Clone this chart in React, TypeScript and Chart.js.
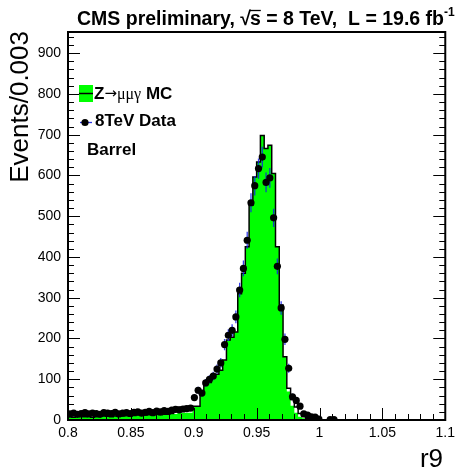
import { useEffect, useRef } from "react";
import { Chart, registerables } from "chart.js";

Chart.register(...registerables);

const X_MIN = 0.8;
const X_MAX = 1.1;
const BIN_WIDTH = 0.003;
const Y_MAX = 952;

// Green filled MC histogram (100 bins of 0.003 from 0.8 to 1.1)
const mcFill = [
  8, 7, 9, 8, 8, 9, 7, 8, 9, 10,
  9, 8, 10, 9, 10, 11, 10, 11, 12, 11,
  12, 13, 12, 14, 13, 14, 15, 16, 15, 17,
  18, 18, 18, 33, 33, 65, 88, 92, 108, 112,
  122, 147, 196, 203, 216, 310, 360, 425, 527, 596,
  633, 698, 666, 674, 605, 425, 282, 155, 70, 35,
  18, 8, 4, 2, 1, 0, 0, 0, 0, 0,
  0, 0, 0, 0, 0, 0, 0, 0, 0, 0,
  0, 0, 0, 0, 0, 0, 0, 0, 0, 0,
  0, 0, 0, 0, 0, 0, 0, 0, 0, 0,
];

// Black outline MC histogram
const mcLine = [
  8, 7, 9, 8, 8, 9, 7, 8, 9, 10,
  9, 8, 10, 9, 10, 11, 10, 11, 12, 11,
  12, 13, 12, 14, 13, 14, 15, 16, 24, 31,
  32, 33, 34, 34, 34, 65, 88, 92, 108, 112,
  122, 147, 196, 203, 216, 310, 360, 425, 527, 596,
  633, 698, 666, 674, 605, 425, 282, 155, 78, 50,
  32, 16, 9, 4, 2, 1, 0, 0, 0, 0,
  0, 0, 0, 0, 0, 0, 0, 0, 0, 0,
  0, 0, 0, 0, 0, 0, 0, 0, 0, 0,
  0, 0, 0, 0, 0, 0, 0, 0, 0, 0,
];

// 8 TeV data counts per bin (null = empty bin, not drawn)
const dataCounts: (number | null)[] = [
  15, 17, 14, 16, 18, 15, 17, 16, 14, 18,
  17, 16, 19, 15, 17, 18, 16, 19, 20, 17,
  19, 21, 18, 22, 20, 23, 21, 24, 26, 25,
  27, 28, 29, 55, 73, 66, 91, 100, 108, 125,
  140, 185, 208, 220, 253, 319, 372, 441, 533, 575,
  617, 645, 583, 594, 496, 377, 275, 198, 127, 57,
  48, 34, 15, 12, 8, 7, 2, null, null, 1,
  1, null, null, null, null, null, null, null, null, null,
  null, null, null, null, null, null, null, null, null, null,
  null, null, null, null, null, null, null, null, null, null,
];

const xTickValues = [0.8, 0.85, 0.9, 0.95, 1.0, 1.05, 1.1];
const xTickLabels = ["0.8", "0.85", "0.9", "0.95", "1", "1.05", "1.1"];
const yTickValues = [0, 100, 200, 300, 400, 500, 600, 700, 800, 900];
const yTickLabels = ["0", "100", "200", "300", "400", "500", "600", "700", "800", "900"];

const FONT = '"Liberation Sans", Arial, Helvetica, sans-serif';

function stepPoints(vals: number[]) {
  const pts = vals.map((v, i) => ({ x: X_MIN + i * BIN_WIDTH, y: v }));
  pts.push({ x: X_MIN + vals.length * BIN_WIDTH, y: vals[vals.length - 1] });
  return pts;
}

const dataPoints = dataCounts
  .map((v, i) => (v == null ? null : { x: X_MIN + (i + 0.5) * BIN_WIDTH, y: v }))
  .filter((p): p is { x: number; y: number } => p !== null);

const errorBarPlugin = {
  id: "errorBars",
  beforeDatasetDraw(chart: any, args: any) {
    if (args.index !== 0) return;
    const { ctx, chartArea, scales } = chart;
    const xs = scales.x;
    const ys = scales.y;
    ctx.save();
    ctx.beginPath();
    ctx.rect(chartArea.left, chartArea.top, chartArea.right - chartArea.left, chartArea.bottom - chartArea.top);
    ctx.clip();
    ctx.strokeStyle = "rgba(20,30,230,0.85)";
    ctx.lineWidth = 1.3;
    ctx.beginPath();
    dataPoints.forEach((p) => {
      const e = Math.sqrt(p.y);
      const px = xs.getPixelForValue(p.x);
      ctx.moveTo(px, ys.getPixelForValue(p.y + e));
      ctx.lineTo(px, ys.getPixelForValue(Math.max(0, p.y - e)));
    });
    ctx.stroke();
    ctx.restore();
  },
};

const decorPlugin = {
  id: "decor",
  afterDraw(chart: any) {
    const { ctx, chartArea, scales } = chart;
    const { left, right, top, bottom } = chartArea;
    const xs = scales.x;
    const ys = scales.y;
    ctx.save();
    ctx.strokeStyle = "#000";
    ctx.fillStyle = "#000";

    // ticks
    ctx.lineWidth = 1;
    ctx.beginPath();
    for (let k = 0; k <= 47; k++) {
      const v = k * 20;
      if (v > Y_MAX) break;
      const py = Math.round(ys.getPixelForValue(v)) + 0.5;
      const len = v % 100 === 0 ? 12 : 6;
      ctx.moveTo(left, py);
      ctx.lineTo(left + len, py);
      ctx.moveTo(right, py);
      ctx.lineTo(right - len, py);
    }
    for (let k = 0; k <= 30; k++) {
      const v = X_MIN + k * 0.01;
      const px = Math.round(xs.getPixelForValue(v)) + 0.5;
      const len = k % 5 === 0 ? 12 : 6;
      ctx.moveTo(px, bottom);
      ctx.lineTo(px, bottom - len);
    }
    ctx.stroke();

    // frame
    ctx.lineWidth = 2;
    ctx.strokeRect(left, top, right - left, bottom - top);

    // title
    let x = 77;
    const by = 25;
    ctx.textBaseline = "alphabetic";
    ctx.textAlign = "left";
    ctx.font = `bold 19.5px ${FONT}`;
    const part1 = "CMS preliminary, ";
    ctx.fillText(part1, x, by);
    x += ctx.measureText(part1).width;
    ctx.fillText("\u221A", x, by);
    x += ctx.measureText("\u221A").width - 1;
    const sW = ctx.measureText("s").width;
    ctx.fillText("s", x, by);
    ctx.lineWidth = 1.3;
    ctx.beginPath();
    ctx.moveTo(x - 1, by - 14.5);
    ctx.lineTo(x + sW, by - 14.5);
    ctx.stroke();
    x += sW;
    const part2 = " = 8 TeV,  L = 19.6 fb";
    ctx.fillText(part2, x, by);
    x += ctx.measureText(part2).width;
    ctx.font = `bold 12px ${FONT}`;
    ctx.fillText("-1", x, by - 9);

    // axis titles
    ctx.font = `26px ${FONT}`;
    ctx.save();
    ctx.translate(28, top - 1);
    ctx.rotate(-Math.PI / 2);
    ctx.textAlign = "right";
    ctx.fillText("Events/0.003", 0, 0);
    ctx.restore();
    ctx.textAlign = "right";
    ctx.fillText("r9", 443, 467);

    // legend
    ctx.textAlign = "left";
    ctx.fillStyle = "#00ff00";
    ctx.fillRect(79, 85, 14, 17);
    ctx.strokeStyle = "#000";
    ctx.lineWidth = 1.5;
    ctx.beginPath();
    ctx.moveTo(79, 93.5);
    ctx.lineTo(93, 93.5);
    ctx.stroke();
    ctx.fillStyle = "#000";
    ctx.font = `bold 17px ${FONT}`;
    ctx.fillText("Z", 94, 99);
    let lx = 94 + ctx.measureText("Z").width;
    ctx.font = `15px "DejaVu Sans", sans-serif`;
    ctx.fillText("\u2192", lx, 98);
    lx += ctx.measureText("\u2192").width;
    ctx.font = `16px "Liberation Serif", "DejaVu Serif", serif`;
    ctx.fillText("\u03BC\u03BC\u03B3", lx, 99);
    lx += ctx.measureText("\u03BC\u03BC\u03B3").width;
    ctx.font = `bold 17px ${FONT}`;
    ctx.fillText(" MC", lx, 99);

    ctx.strokeStyle = "rgba(20,30,230,0.9)";
    ctx.lineWidth = 1.3;
    ctx.beginPath();
    ctx.moveTo(80, 122.5);
    ctx.lineTo(92, 122.5);
    ctx.stroke();
    ctx.beginPath();
    ctx.arc(85, 122.5, 3.6, 0, Math.PI * 2);
    ctx.fill();
    ctx.fillText("8TeV Data", 95, 126);
    ctx.fillText("Barrel", 87, 155);

    ctx.restore();
  },
};

export default function App() {
  const canvasRef = useRef<HTMLCanvasElement | null>(null);

  useEffect(() => {
    const canvas = canvasRef.current;
    if (!canvas) return;
    const chart = new Chart(canvas, {
      type: "line",
      data: {
        datasets: [
          {
            label: "8TeV Data",
            data: dataPoints,
            showLine: false,
            pointRadius: 3.6,
            pointBackgroundColor: "#000",
            pointBorderColor: "#000",
            pointBorderWidth: 0,
            order: 0,
          },
          {
            label: "MC outline",
            data: stepPoints(mcLine),
            stepped: true,
            borderColor: "#000",
            borderWidth: 1.5,
            pointRadius: 0,
            fill: false,
            order: 1,
          },
          {
            label: "Z→μμγ MC",
            data: stepPoints(mcFill),
            stepped: true,
            borderColor: "rgba(0,0,0,0)",
            borderWidth: 0,
            backgroundColor: "#00ff00",
            pointRadius: 0,
            fill: "origin",
            order: 2,
          },
        ],
      },
      options: {
        responsive: false,
        animation: false,
        events: [],
        layout: { padding: { top: 32, right: 10, left: 0, bottom: 0 } },
        plugins: {
          legend: { display: false },
          tooltip: { enabled: false },
          title: { display: false },
        },
        scales: {
          x: {
            type: "linear",
            min: X_MIN,
            max: X_MAX,
            grid: { display: false, drawTicks: false },
            border: { display: false },
            afterBuildTicks: (s: any) => {
              s.ticks = xTickValues.map((v) => ({ value: v }));
            },
            afterFit: (s: any) => {
              s.height = 52;
            },
            ticks: {
              callback: (_v: any, i: number) => xTickLabels[i],
              font: { family: FONT, size: 14 },
              color: "#000",
              padding: 5,
              maxRotation: 0,
              autoSkip: false,
            },
          },
          y: {
            type: "linear",
            min: 0,
            max: Y_MAX,
            grid: { display: false, drawTicks: false },
            border: { display: false },
            afterBuildTicks: (s: any) => {
              s.ticks = yTickValues.map((v) => ({ value: v }));
            },
            afterFit: (s: any) => {
              s.width = 68;
            },
            ticks: {
              callback: (_v: any, i: number) => yTickLabels[i],
              font: { family: FONT, size: 14 },
              color: "#000",
              padding: 7,
              autoSkip: false,
            },
          },
        },
      },
      plugins: [errorBarPlugin, decorPlugin],
    } as any);
    return () => chart.destroy();
  }, []);

  return (
    <div style={{ position: "absolute", left: 0, top: 0, width: 460, height: 472, background: "#fff" }}>
      <canvas ref={canvasRef} width={460} height={472} style={{ display: "block" }} />
    </div>
  );
}
